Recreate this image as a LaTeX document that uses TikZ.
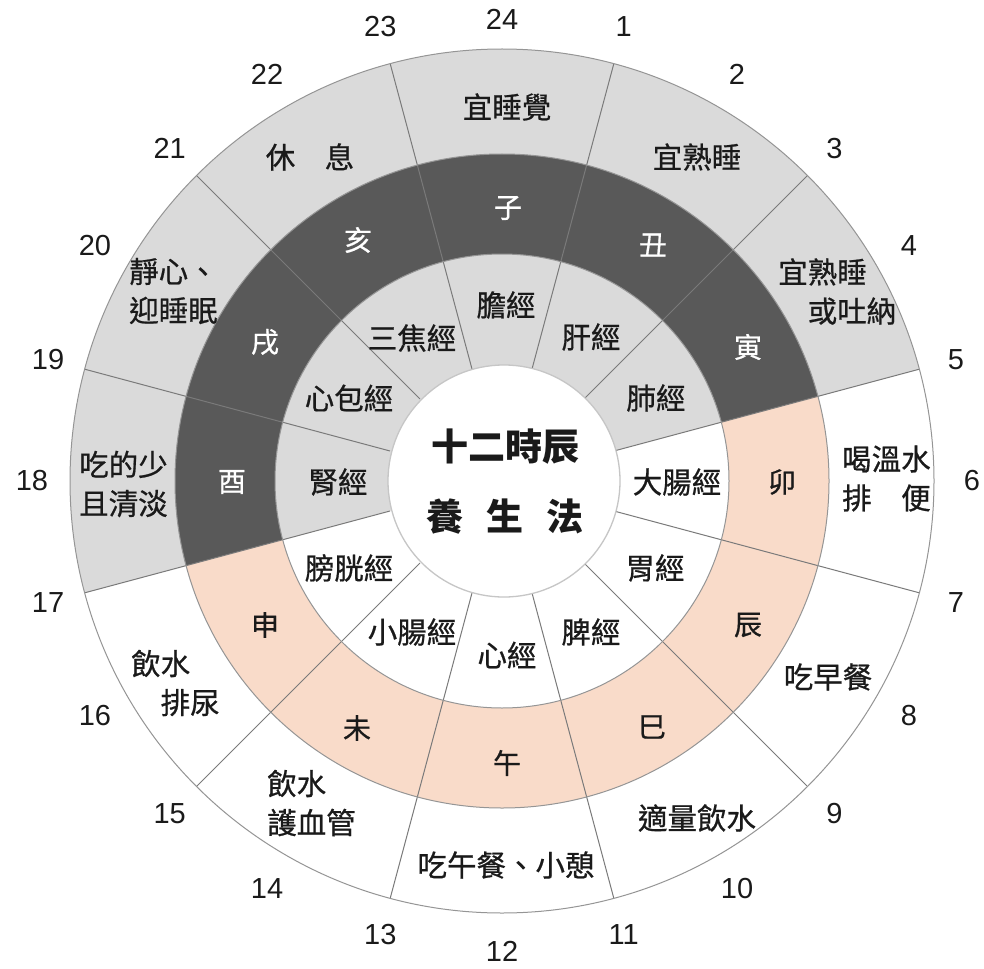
\documentclass[tikz,border=0pt]{standalone}
\usepackage{fontspec}
\setmainfont{Liberation Sans}
\newfontfamily\cjk[FakeBold=0.7]{Noto Sans CJK TC}
\newfontfamily\cjkb{Noto Sans CJK TC}
\definecolor{outgray}{HTML}{DADADA}
\definecolor{darkring}{HTML}{595959}
\definecolor{peach}{HTML}{F9DBC9}
\definecolor{linegray}{HTML}{7A7A7A}
\definecolor{txt}{HTML}{1A1A1A}
\tikzset{
  lab/.style={inner sep=0pt, font=\cjk\fontsize{29.5}{39}\selectfont, text=txt},
  ringw/.style={inner sep=0pt, font=\cjk\fontsize{28}{34}\selectfont, text=white},
  ringb/.style={inner sep=0pt, font=\cjk\fontsize{28}{34}\selectfont, text=txt},
  num/.style={inner sep=0pt, font=\fontsize{29}{34}\selectfont, text=txt},
  titletext/.style={inner sep=0pt, font=\cjkb\bfseries\fontsize{37}{44}\selectfont, text=txt},
  divline/.style={draw=linegray, line width=1pt},
  ringline/.style={draw=linegray!80, line width=1pt},
}
\begin{document}
\begin{tikzpicture}[x=1pt,y=-1pt]
\useasboundingbox (0,0) rectangle (984,968);
\begin{scope}[shift={(502,481)}]
  \coordinate (C) at (0,0);
  \fill[white] (C) circle (432);
  \begin{scope}
    \clip (165:800) -- (210:900) -- (270:900) -- (330:900) -- (345:800) -- cycle;
    \fill[outgray] (C) circle (432);
    \fill[darkring] (C) circle (327);
    \fill[outgray] (C) circle (227);
  \end{scope}
  \begin{scope}
    \clip (345:800) -- (30:900) -- (90:900) -- (150:900) -- (165:800) -- cycle;
    \fill[peach] (C) circle (327);
    \fill[white] (C) circle (227);
  \end{scope}
  \foreach \h in {1,3,...,23} {
    \draw[divline] ({15*\h-90}:116) -- ({15*\h-90}:432);
  }
  \draw[ringline] (C) circle (432);
  \draw[ringline] (C) circle (327);
  \draw[ringline] (C) circle (227);
  \draw[draw=gray!45, line width=1.3pt, fill=white] (2,0) circle (116);
  \foreach \h in {1,...,23} {
    \node[num] (n\h) at ({15*\h-90}:470) {\h};
  }
  \node[num] (n24) at (0,-462) {24};
\end{scope}

% outer ring texts
\node[lab] (o24) at (507,107) {宜睡覺};
\node[lab] (o2) at (697,157) {宜熟睡};
\node[lab, align=left, anchor=west] (o4) at (778,291.5) {宜熟睡\\\hspace*{1em}或吐納};
\node[lab, align=left, anchor=west] (o6) at (842,478.5) {喝溫水\\排\hspace{1em}便};
\node[lab] (o8) at (828,677) {吃早餐};
\node[lab] (o10) at (697,818) {適量飲水};
\node[lab] (o12) at (506,865) {吃午餐、小憩};
\node[lab, align=left, anchor=west] (o14) at (267,803) {飲水\\護血管};
\node[lab, align=left, anchor=west] (o16) at (131,683) {飲水\\\hspace*{1em}排尿};
\node[lab, align=left, anchor=west] (o18) at (79,484) {吃的少\\且清淡};
\node[lab, align=left, anchor=west] (o20) at (129,291) {靜心、\\迎睡眠};
\node[lab] (o22) at (310,157) {休\hspace{1em}息};

% middle ring
\node[ringw] (zi) at (508,208) {子};
\node[ringw] (chou) at (653,245) {丑};
\node[ringw] (yin) at (748,347) {寅};
\node[ringb] (mao) at (782,482) {卯};
\node[ringb] (chen) at (748,625) {辰};
\node[ringb] (si) at (652,727) {巳};
\node[ringb] (wu) at (507,763) {午};
\node[ringb] (wei) at (357,728) {未};
\node[ringb] (shen) at (265,625) {申};
\node[ringw] (you) at (232,482) {酉};
\node[ringw] (xu) at (265,342) {戌};
\node[ringw] (hai) at (358,240) {亥};

% inner ring
\node[lab] (dan) at (506,305) {膽經};
\node[lab] (gan) at (591,337) {肝經};
\node[lab] (fei) at (656,398) {肺經};
\node[lab] (dachang) at (677,482) {大腸經};
\node[lab] (weij) at (655,568) {胃經};
\node[lab] (pi) at (591,632) {脾經};
\node[lab] (xin) at (507,655) {心經};
\node[lab] (xiaochang) at (412,632) {小腸經};
\node[lab] (pangguang) at (349,568) {膀胱經};
\node[lab] (shenj) at (338,482) {腎經};
\node[lab] (xinbao) at (349,398) {心包經};
\node[lab] (sanjiao) at (412,338) {三焦經};

% centre
\node[titletext] (t1) at (505,447) {十二時辰};
\node[titletext] (t2) at (505,517) {養\hspace{23pt}生\hspace{23pt}法};
\end{tikzpicture}
\end{document}
